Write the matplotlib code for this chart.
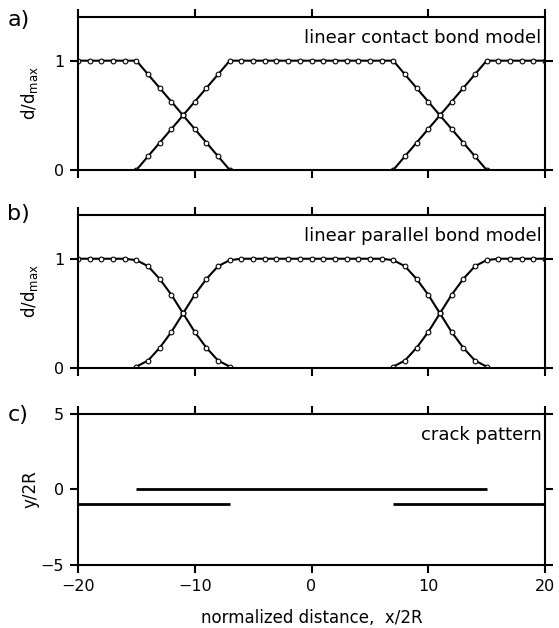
import numpy as np
import matplotlib
matplotlib.use('Agg')
import matplotlib.pyplot as plt

# node positions (x/2R) for each branch of the curves
x_left = list(range(-20, -6))      # -20 .. -7
x_mid = list(range(-15, 16))       # -15 .. 15
x_right = list(range(7, 21))       # 7 .. 20

# a) linear contact bond model
a_left = [1, 1, 1, 1, 1, 1, 0.875, 0.75, 0.625, 0.5, 0.375, 0.25, 0.125, 0]
a_mid = [0, 0.125, 0.25, 0.375, 0.5, 0.625, 0.75, 0.875,
         1, 1, 1, 1, 1, 1, 1, 1, 1, 1, 1, 1, 1, 1, 1,
         0.875, 0.75, 0.625, 0.5, 0.375, 0.25, 0.125, 0]
a_right = [0, 0.125, 0.25, 0.375, 0.5, 0.625, 0.75, 0.875, 1, 1, 1, 1, 1, 1]

# b) linear parallel bond model
b_left = [1, 1, 1, 1, 1, 0.987, 0.932, 0.815, 0.67, 0.5, 0.33, 0.185, 0.068, 0.013]
b_mid = [0.013, 0.068, 0.185, 0.33, 0.5, 0.67, 0.815, 0.932,
         0.987, 1, 1, 1, 1, 1, 1, 1, 1, 1, 1, 1, 1, 1, 0.987,
         0.932, 0.815, 0.67, 0.5, 0.33, 0.185, 0.068, 0.013]
b_right = [0.013, 0.068, 0.185, 0.33, 0.5, 0.67, 0.815, 0.932, 0.987, 1, 1, 1, 1, 1]

# c) crack pattern segments
crack_x = [[-15, 15], [-20, -7], [7, 20]]
crack_y = [[0, 0], [-0.95, -0.95], [-0.95, -0.95]]

plt.rcParams['font.family'] = 'DejaVu Sans'
plt.rcParams['font.size'] = 12
plt.rcParams['xtick.labelsize'] = 11.5
plt.rcParams['ytick.labelsize'] = 11.5

fig = plt.figure(figsize=(5.59, 6.28), dpi=100)
left, width = 0.1395, 0.8355
ax_a = fig.add_axes([left, 0.7293, width, 0.2437])
ax_b = fig.add_axes([left, 0.4140, width, 0.2436])
ax_c = fig.add_axes([left, 0.1003, width, 0.2405])


def style(ax):
    for s in ax.spines.values():
        s.set_linewidth(1.5)
    ax.tick_params(direction='out', length=6, width=1.5, top=True, right=True,
                   labeltop=False, labelright=False, pad=4)
    ax.set_xlim(-20, 20)
    ax.set_xticks([-20, -10, 0, 10, 20])


mk = dict(color='black', lw=1.5, marker='o', ms=3.4, mfc='white', mec='black', mew=0.8)
for ax, yl, ym, yr, txt in [(ax_a, a_left, a_mid, a_right, 'linear contact bond model'),
                            (ax_b, b_left, b_mid, b_right, 'linear parallel bond model')]:
    ax.plot(x_left, yl, **mk)
    ax.plot(x_mid, ym, **mk)
    ax.plot(x_right, yr, **mk)
    style(ax)
    ax.set_ylim(0, 1.4)
    ax.set_yticks([0, 1])
    ax.tick_params(labelbottom=False)
    ax.set_ylabel(r'd/d$_{\mathrm{max}}$', labelpad=10)
    ax.text(0.992, 0.86, txt, transform=ax.transAxes, ha='right', va='center', fontsize=13)

for xs, ys in zip(crack_x, crack_y):
    ax_c.plot(xs, ys, color='black', lw=2.0, solid_capstyle='butt')
style(ax_c)
ax_c.set_ylim(-5, 5)
ax_c.set_yticks([-5, 0, 5])
ax_c.set_ylabel('y/2R', labelpad=1)
ax_c.set_xlabel('normalized distance,  x/2R', fontsize=12, labelpad=11)
ax_c.text(0.992, 0.86, 'crack pattern', transform=ax_c.transAxes, ha='right', va='center', fontsize=13)

# panel letters
for lab, yy in [('a)', 0.968), ('b)', 0.659), ('c)', 0.339)]:
    fig.text(0.013, yy, lab, ha='left', va='center', fontsize=16)

fig.savefig('out.png', dpi=100)
